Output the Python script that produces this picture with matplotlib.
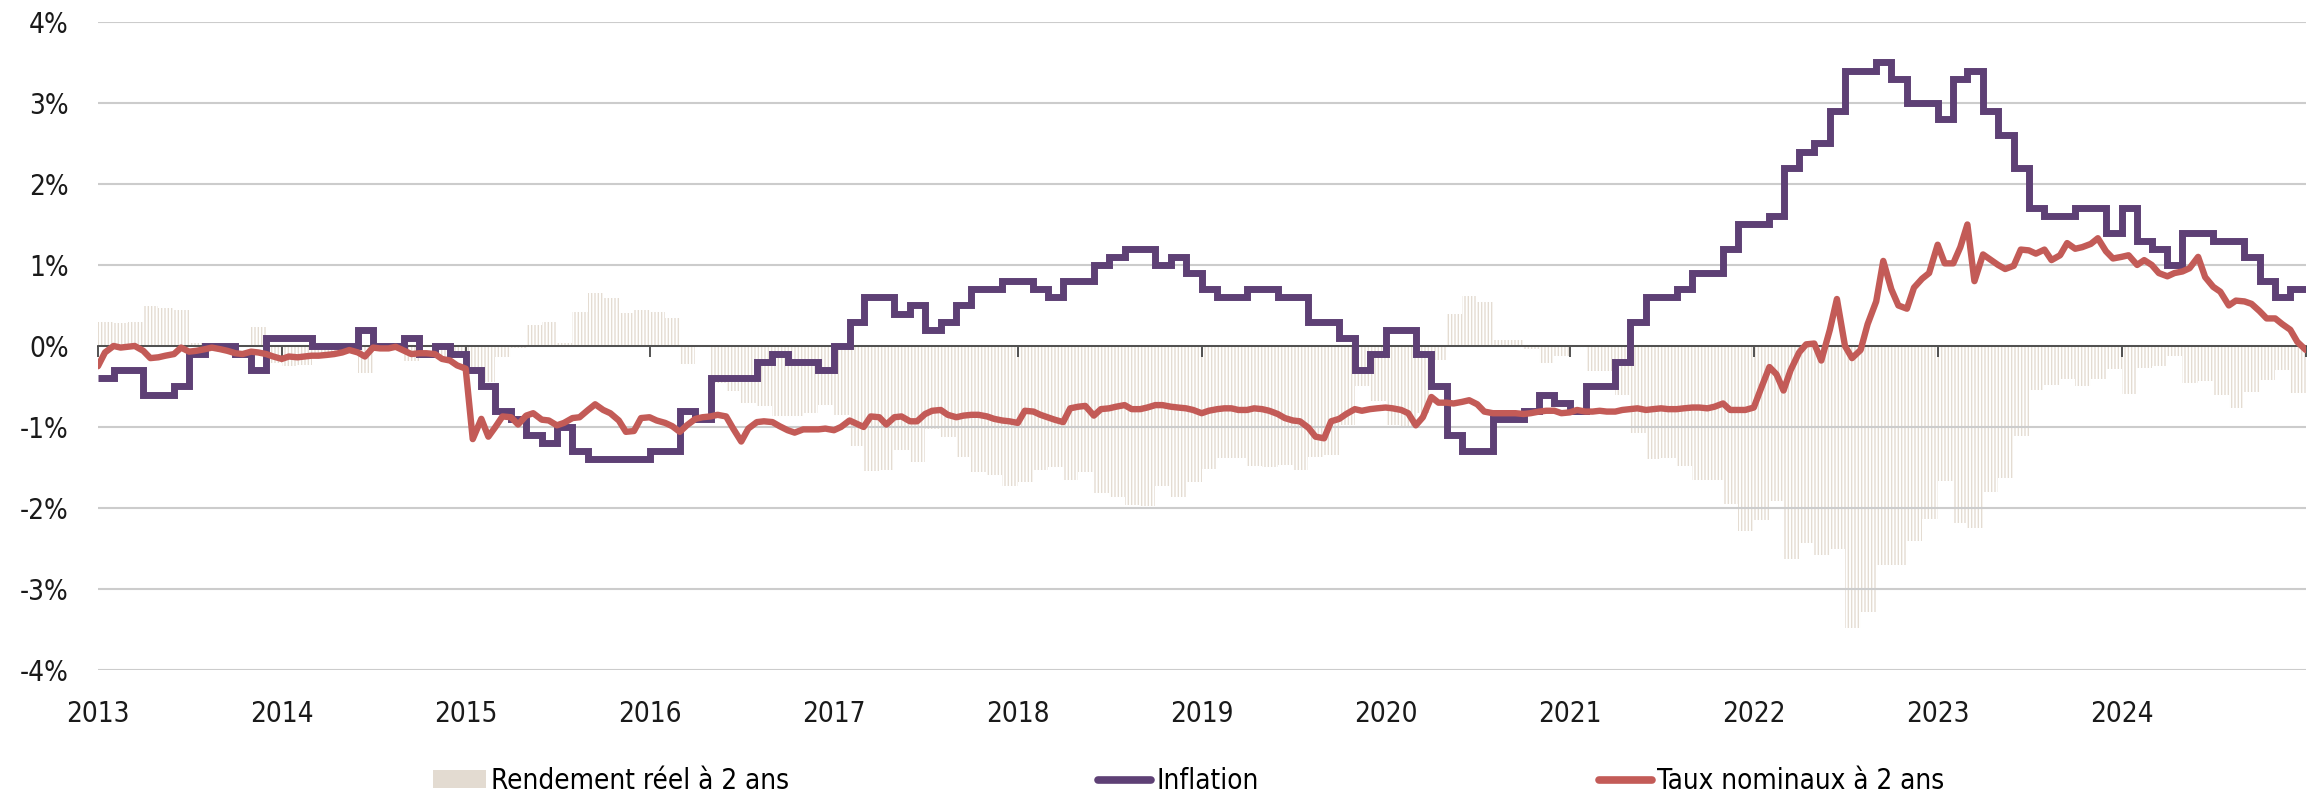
import numpy as np
import pandas as pd
import matplotlib
matplotlib.use("Agg")
import matplotlib.pyplot as plt
import matplotlib.dates as mdates
from matplotlib import font_manager
from matplotlib.patches import Patch
from matplotlib.lines import Line2D

# Inflation (monthly, % y/y), Jan 2013 .. Dec 2024
inflation = [
    -0.4, -0.3, -0.3, -0.6, -0.6, -0.5, -0.1, 0.0, 0.0, -0.1, -0.3, 0.1,   # 2013
    0.1, 0.1, 0.0, 0.0, 0.0, 0.2, 0.0, 0.0, 0.1, -0.1, 0.0, -0.1,          # 2014
    -0.3, -0.5, -0.8, -0.9, -1.1, -1.2, -1.0, -1.3, -1.4, -1.4, -1.4, -1.4,  # 2015
    -1.3, -1.3, -0.8, -0.9, -0.4, -0.4, -0.4, -0.2, -0.1, -0.2, -0.2, -0.3,  # 2016
    0.0, 0.3, 0.6, 0.6, 0.4, 0.5, 0.2, 0.3, 0.5, 0.7, 0.7, 0.8,            # 2017
    0.8, 0.7, 0.6, 0.8, 0.8, 1.0, 1.1, 1.2, 1.2, 1.0, 1.1, 0.9,            # 2018
    0.7, 0.6, 0.6, 0.7, 0.7, 0.6, 0.6, 0.3, 0.3, 0.1, -0.3, -0.1,          # 2019
    0.2, 0.2, -0.1, -0.5, -1.1, -1.3, -1.3, -0.9, -0.9, -0.8, -0.6, -0.7,  # 2020
    -0.8, -0.5, -0.5, -0.2, 0.3, 0.6, 0.6, 0.7, 0.9, 0.9, 1.2, 1.5,        # 2021
    1.5, 1.6, 2.2, 2.4, 2.5, 2.9, 3.4, 3.4, 3.5, 3.3, 3.0, 3.0,            # 2022
    2.8, 3.3, 3.4, 2.9, 2.6, 2.2, 1.7, 1.6, 1.6, 1.7, 1.7, 1.4,            # 2023
    1.7, 1.3, 1.2, 1.0, 1.4, 1.4, 1.3, 1.3, 1.1, 0.8, 0.6, 0.7,            # 2024
]

# Rendement reel a 2 ans (monthly), Jan 2013 .. Dec 2024
real_yield = [
    0.30, 0.28, 0.29, 0.49, 0.47, 0.44, 0.04, -0.03, -0.05, 0.00, 0.23, -0.21,
    -0.25, -0.24, -0.12, -0.11, -0.07, -0.33, -0.03, -0.02, -0.18, 0.01, -0.13, -0.11,
    -0.35, -0.45, -0.14, -0.03, 0.26, 0.29, 0.04, 0.42, 0.65, 0.59, 0.41, 0.45,
    0.42, 0.35, -0.22, 0.01, -0.46, -0.55, -0.70, -0.74, -0.87, -0.86, -0.83, -0.73,
    -0.85, -1.24, -1.54, -1.53, -1.28, -1.43, -1.02, -1.12, -1.37, -1.55, -1.59, -1.73,
    -1.68, -1.53, -1.50, -1.66, -1.55, -1.82, -1.86, -1.96, -1.97, -1.73, -1.86, -1.68,
    -1.52, -1.38, -1.38, -1.48, -1.49, -1.47, -1.53, -1.37, -1.34, -0.97, -0.49, -0.68,
    -0.97, -1.01, -0.83, -0.17, 0.40, 0.62, 0.54, 0.07, 0.07, -0.04, -0.21, -0.12,
    0.00, -0.31, -0.31, -0.60, -1.08, -1.39, -1.38, -1.48, -1.66, -1.66, -1.95, -2.29,
    -2.15, -1.91, -2.63, -2.43, -2.58, -2.51, -3.48, -3.29, -2.70, -2.70, -2.41, -2.14,
    -1.67, -2.18, -2.25, -1.80, -1.63, -1.11, -0.54, -0.48, -0.41, -0.49, -0.41, -0.28,
    -0.59, -0.27, -0.25, -0.12, -0.46, -0.43, -0.60, -0.77, -0.57, -0.42, -0.30, -0.58,
]

# Taux nominaux a 2 ans (1st and 15th of each month), Jan 2013 .. Jan 2025
nominal_2y = [
    -0.25, -0.08, 0.00, -0.02, -0.01, 0.00, -0.06, -0.15, -0.14, -0.12, -0.10, -0.02,
    -0.07, -0.06, -0.04, -0.02, -0.04, -0.06, -0.09, -0.10, -0.07, -0.08, -0.10, -0.13,
    -0.16, -0.13, -0.14, -0.13, -0.12, -0.12, -0.11, -0.10, -0.08, -0.05, -0.08, -0.13,
    -0.02, -0.03, -0.03, -0.01, -0.06, -0.10, -0.09, -0.09, -0.10, -0.16, -0.18, -0.24,
    -0.28, -1.15, -0.90, -1.12, -1.00, -0.87, -0.88, -0.97, -0.86, -0.83, -0.91, -0.92,
    -0.98, -0.95, -0.89, -0.88, -0.79, -0.72, -0.79, -0.83, -0.92, -1.06, -1.05, -0.89,
    -0.88, -0.92, -0.95, -0.99, -1.06, -0.98, -0.90, -0.88, -0.87, -0.85, -0.87, -1.02,
    -1.18, -1.02, -0.94, -0.93, -0.94, -0.99, -1.04, -1.07, -1.03, -1.03, -1.03, -1.02,
    -1.04, -1.00, -0.92, -0.96, -1.00, -0.87, -0.88, -0.97, -0.88, -0.87, -0.93, -0.93,
    -0.84, -0.80, -0.79, -0.85, -0.88, -0.86, -0.85, -0.85, -0.87, -0.90, -0.92, -0.93,
    -0.95, -0.80, -0.81, -0.85, -0.88, -0.91, -0.94, -0.77, -0.75, -0.74, -0.86, -0.78,
    -0.77, -0.75, -0.73, -0.78, -0.78, -0.76, -0.73, -0.73, -0.75, -0.76, -0.77, -0.79,
    -0.83, -0.80, -0.78, -0.77, -0.77, -0.79, -0.79, -0.77, -0.78, -0.80, -0.84, -0.89,
    -0.92, -0.93, -1.01, -1.12, -1.14, -0.93, -0.90, -0.84, -0.78, -0.80, -0.78, -0.77,
    -0.76, -0.77, -0.79, -0.83, -0.98, -0.88, -0.63, -0.70, -0.70, -0.71, -0.69, -0.67,
    -0.72, -0.81, -0.83, -0.83, -0.83, -0.83, -0.84, -0.83, -0.81, -0.80, -0.80, -0.83,
    -0.82, -0.79, -0.81, -0.81, -0.80, -0.81, -0.81, -0.79, -0.78, -0.77, -0.79, -0.78,
    -0.77, -0.78, -0.78, -0.77, -0.76, -0.76, -0.77, -0.75, -0.71, -0.79, -0.79, -0.79,
    -0.76, -0.53, -0.26, -0.35, -0.55, -0.30, -0.08, 0.02, 0.03, -0.18, 0.20, 0.58,
    0.00, -0.15, -0.05, 0.27, 0.55, 1.05, 0.70, 0.50, 0.46, 0.72, 0.83, 0.90,
    1.25, 1.02, 1.02, 1.22, 1.50, 0.80, 1.13, 1.07, 1.00, 0.95, 0.99, 1.19,
    1.18, 1.14, 1.19, 1.06, 1.12, 1.27, 1.20, 1.22, 1.26, 1.33, 1.17, 1.08,
    1.10, 1.12, 1.00, 1.06, 1.00, 0.90, 0.86, 0.90, 0.92, 0.96, 1.10, 0.85,
    0.73, 0.67, 0.50, 0.56, 0.55, 0.52, 0.43, 0.34, 0.34, 0.27, 0.20, 0.05,
    -0.05,
]

year_labels = [str(y) for y in range(2013, 2025)] + [""]
y_ticks = [-4, -3, -2, -1, 0, 1, 2, 3, 4]
legend_labels = ["Rendement réel à 2 ans", "Inflation", "Taux nominaux à 2 ans"]

PURPLE = "#5e4075"
RED = "#c35b57"
BEIGE = "#e4dcd2"
FS = 20

installed = {f.name for f in font_manager.fontManager.ttflist}
main_font = "Liberation Sans Narrow" if "Liberation Sans Narrow" in installed else "DejaVu Sans"
plt.rcParams["font.family"] = [main_font, "DejaVu Sans"]
plt.rcParams["font.stretch"] = "condensed"
plt.rcParams["hatch.linewidth"] = 1.0

fig = plt.figure(figsize=(23.21, 7.99), dpi=100)
ax = fig.add_axes([0.0422, 0.1615, 0.9513, 0.8110])

month_edges = mdates.date2num(pd.date_range("2013-01-01", periods=145, freq="MS"))
nom_dates = mdates.date2num(pd.date_range("2013-01-01", periods=len(nominal_2y), freq="SMS"))

# real yield: light striped bars
ax.bar(month_edges[:-1], real_yield, width=np.diff(month_edges), align="edge",
       facecolor="none", edgecolor=BEIGE, hatch="|||||", linewidth=0, zorder=1)
# inflation steps
ax.stairs(inflation, month_edges, baseline=None, color=PURPLE, linewidth=5.0, zorder=3)
# nominal 2y rate
ax.plot(nom_dates, nominal_2y, color=RED, linewidth=4.6, zorder=4,
        solid_joinstyle="round", solid_capstyle="round")

ax.set_xlim(month_edges[0], month_edges[-1])
ax.set_ylim(-4, 4)
ax.set_axisbelow(False)

year_ticks = mdates.date2num(pd.date_range("2013-01-01", periods=13, freq="YS"))
ax.set_xticks(year_ticks)
ax.set_xticklabels(year_labels)
ax.set_yticks(y_ticks)
ax.set_yticklabels([f"{v}%" for v in y_ticks])

ax.yaxis.grid(True, color="#cccccc", linewidth=1.5)
for s in ["top", "right", "left"]:
    ax.spines[s].set_visible(False)
ax.spines["bottom"].set_position(("data", 0))
ax.spines["bottom"].set_color("#444444")
ax.spines["bottom"].set_linewidth(1.3)
ax.spines["bottom"].set_zorder(2.6)

ax.tick_params(axis="x", direction="out", length=8, width=1.3, color="#444444",
               pad=247, labelsize=FS, labelcolor="#1a1a1a")
ax.tick_params(axis="y", length=0, pad=21, labelsize=FS, labelcolor="#1a1a1a")

# legend: three separate entries along the bottom
handles = [
    Patch(facecolor="#e3dbd1", edgecolor="none"),
    Line2D([], [], color=PURPLE, linewidth=5.5, solid_capstyle="round"),
    Line2D([], [], color=RED, linewidth=5.5, solid_capstyle="round"),
]
leg_x = [433, 1098, 1599]
for h, lab, x in zip(handles, legend_labels, leg_x):
    fig.legend(handles=[h], labels=[lab], loc="center left",
               bbox_to_anchor=(x / 2321, 1 - 781 / 799), frameon=False,
               borderpad=0, borderaxespad=0, handletextpad=0.2,
               handlelength=1.9, handleheight=0.62, fontsize=FS)

fig.savefig("out.png", dpi=100)
